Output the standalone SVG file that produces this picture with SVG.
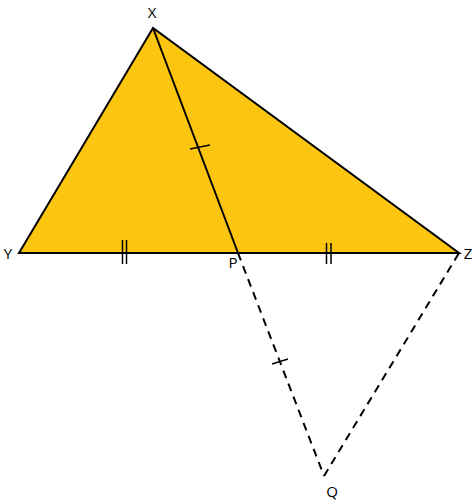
<svg xmlns="http://www.w3.org/2000/svg" width="476" height="503" viewBox="0 0 476 503">
<style>
.lbl{font-family:"Open Sans","Liberation Sans",sans-serif;font-size:15px;fill:#000}
.edge{stroke:#000;stroke-width:2;fill:none}
.dash{stroke:#000;stroke-width:2;fill:none;stroke-dasharray:8 6}
.tick{stroke:#000;stroke-width:1.5}
</style>
<rect width="476" height="503" fill="#fff"/>
<g id="triangle">
<polygon points="153,28 19,253 459,253" fill="#FCC50F" stroke="#000" stroke-width="2" stroke-linejoin="miter"/>
</g>
<g id="connectors">
<line class="edge" x1="153" y1="28" x2="238" y2="253"/>
<line class="dash" x1="238" y1="253" x2="324" y2="476"/>
<line class="dash" x1="324" y1="476" x2="459" y2="253"/>
<line class="tick" x1="190" y1="149" x2="210" y2="145"/>
<line class="tick" x1="272" y1="364" x2="288" y2="359"/>
<line class="tick" x1="122.5" y1="240" x2="122.5" y2="264"/>
<line class="tick" x1="126.5" y1="240" x2="126.5" y2="264"/>
<line class="tick" x1="326.5" y1="243" x2="326.5" y2="264"/>
<line class="tick" x1="331" y1="243" x2="331" y2="264"/>
</g>
<g id="X"><text class="lbl" x="152" y="18" text-anchor="middle">X</text></g>
<g id="Y"><text class="lbl" x="8" y="259" text-anchor="middle">Y</text></g>
<g id="Z"><text class="lbl" x="468" y="259" text-anchor="middle">Z</text></g>
<g id="P"><text class="lbl" x="233" y="268" text-anchor="middle">P</text></g>
<g id="Q"><text class="lbl" x="332" y="497" text-anchor="middle">Q</text></g>
</svg>
